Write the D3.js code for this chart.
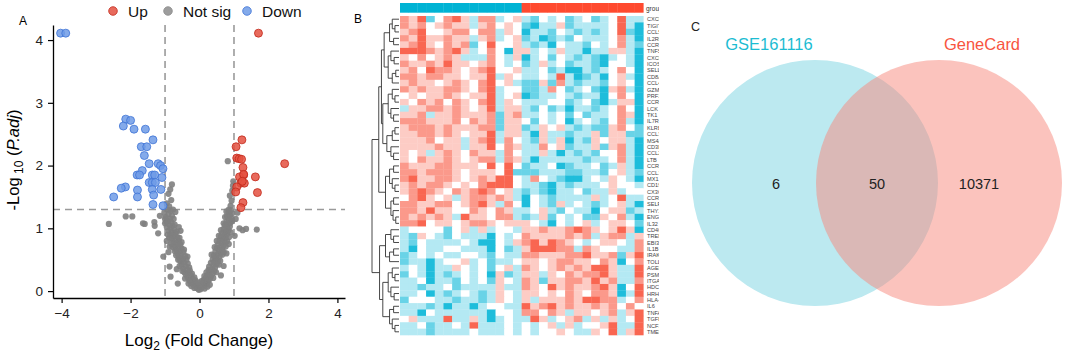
<!DOCTYPE html>
<html>
<head>
<meta charset="utf-8">
<script src="https://cdn.jsdelivr.net/npm/d3@7"></script>
<style>
body { margin: 0; background: #fff; }
text { font-family: "Liberation Sans", Arial, sans-serif; }
</style>
</head>
<body>
<script>
// ---------- data ----------
// volcano: [log2FC, -log10 padj]
var volUp = [[1.71,4.11],[1.23,2.41],[1.06,2.30],[1.08,2.12],[1.15,2.11],[1.22,2.10],[1.26,1.97],[1.28,1.85],
  [1.16,1.82],[1.62,1.82],[2.47,2.03],[1.28,1.86],[1.20,1.72],[1.30,1.72],[1.24,1.75],[1.08,1.66],[1.05,1.58],
  [1.68,1.57],[1.26,1.41],[1.20,1.33]];
var volDown = [[-4.03,4.11],[-3.88,4.11],[-2.14,2.74],[-2.0,2.72],[-2.21,2.63],[-1.90,2.58],[-1.57,2.58],[-1.35,2.41],
  [-1.69,2.30],[-1.53,2.30],[-1.60,2.16],[-1.46,2.03],[-1.20,2.03],[-1.13,2.0],[-1.06,1.95],[-1.81,1.85],[-1.66,1.92],
  [-1.37,1.85],[-1.30,1.85],[-1.74,1.85],[-1.09,1.81],[-2.15,1.66],[-2.27,1.64],[-2.49,1.50],[-1.80,1.61],[-1.80,1.50],
  [-1.46,1.73],[-1.37,1.73],[-1.28,1.73],[-1.37,1.62],[-1.12,1.62],[-1.33,1.53],[-1.35,1.38],[-1.06,1.36]];
var volNS = [[-0.02,0.02],[0.03,0.03],[-0.08,0.05],[0.08,0.06],[-0.13,0.08],[0.12,0.09],[-0.18,0.1],[0.17,0.11],
  [-0.05,0.04],[0.05,0.07],[-0.22,0.13],[0.21,0.12],[-0.1,0.12],[0.1,0.14],[0.0,0.08],[-0.27,0.15],[0.25,0.16],[-0.63,0.12],
  [-0.15,0.05],[0.15,0.04],[-0.24,0.08],[0.23,0.07],[-0.32,0.12],[0.3,0.1],[-0.12,0.17],[0.12,0.18],[-0.06,0.14],[0.06,0.16],
  [-0.3,0.18],[0.29,0.19],[-0.2,0.2],[0.18,0.21],[-0.35,0.22],[0.33,0.23],[-0.25,0.25],[0.24,0.26],[-0.4,0.27],[0.38,0.28],
  [-0.15,0.22],[0.14,0.24],[-0.32,0.3],[0.3,0.31],[-0.44,0.3],[0.43,0.32],[-0.84,0.23],[0.62,0.25],
  [-0.42,0.2],[0.4,0.21],[-0.28,0.33],[0.26,0.34],[-0.5,0.32],[0.48,0.3],[-0.22,0.28],[0.2,0.3],
  [-0.36,0.34],[0.35,0.35],[-0.47,0.36],[0.45,0.37],[-0.3,0.38],[0.28,0.39],[-0.4,0.4],[0.4,0.41],[-0.52,0.42],[0.5,0.43],
  [-0.34,0.44],[0.33,0.45],[-0.45,0.46],[0.44,0.47],[-0.56,0.48],[0.54,0.49],[-0.38,0.5],[0.38,0.5],[-0.87,0.39],[-0.66,0.35],[0.7,0.4],
  [-0.58,0.4],[0.56,0.42],[-0.48,0.5],[0.46,0.52],[-0.62,0.5],[0.6,0.48],[-0.35,0.55],[0.35,0.58],
  [-0.5,0.52],[0.48,0.53],[-0.6,0.54],[0.58,0.55],[-0.42,0.56],[0.42,0.57],[-0.55,0.58],[0.53,0.59],[-0.64,0.6],[0.62,0.61],
  [-0.47,0.62],[0.46,0.63],[-0.58,0.64],[0.57,0.65],[-0.68,0.66],[0.66,0.67],[-0.52,0.68],[0.5,0.69],[-0.62,0.7],[0.6,0.7],
  [-0.9,0.62],[-1.05,0.55],[0.78,0.6],
  [-0.68,0.57],[0.66,0.58],[-0.45,0.66],[0.44,0.7],[-0.72,0.64],[0.7,0.62],
  [-0.72,0.72],[0.7,0.73],[-0.56,0.74],[0.54,0.75],[-0.66,0.76],[0.64,0.77],[-0.76,0.78],[0.73,0.79],[-0.6,0.8],[0.58,0.81],
  [-0.7,0.82],[0.68,0.83],[-0.8,0.84],[0.76,0.85],[-0.64,0.86],[0.62,0.87],[-0.75,0.88],[0.72,0.89],[-0.87,0.71],[-0.95,0.8],[0.85,0.75],
  [-0.78,0.7],[0.76,0.71],[-0.52,0.78],[0.5,0.8],[-0.82,0.76],[0.8,0.8],[-0.58,0.85],[0.56,0.88],
  [-0.85,0.9],[0.8,0.91],[-0.7,0.92],[0.66,0.93],[-0.8,0.94],[0.76,0.95],[-0.9,0.96],[0.84,0.97],[-0.74,0.98],[0.7,0.99],
  [-0.88,0.85],[0.86,0.86],[-0.66,0.95],[0.62,0.97],[-0.92,0.9],[0.9,0.94],[-0.72,1.06],[0.7,1.08],
  [-0.84,1.0],[0.8,1.01],[-0.95,1.02],[0.88,1.03],[-0.78,1.04],[0.74,1.05],[-0.88,1.06],[0.84,1.07],[-1.0,1.08],[0.9,1.09],
  [-0.82,1.1],[0.78,1.1],[-0.6,1.02],[-0.55,0.96],
  [-0.96,1.1],[0.95,1.12],[-0.75,1.15],[0.74,1.18],[-1.0,1.15],[0.85,1.3],[-0.92,1.3],[0.78,1.27],
  [-0.92,1.12],[0.86,1.13],[-0.86,1.15],[0.92,1.16],[-0.98,1.18],[0.8,1.19],[-0.8,1.2],[0.88,1.21],[-0.9,1.23],[0.95,1.24],
  [-1.02,1.25],[0.84,1.26],[-0.84,1.28],[0.9,1.29],[-0.7,1.26],[-0.77,1.3],
  [-0.88,1.35],[0.9,1.36],[-0.82,1.45],[0.93,1.44],[-0.9,1.55],[0.88,1.52],[-0.85,1.62],[0.95,1.6],[-0.8,1.7],[0.97,1.68],
  [-0.95,1.4],[0.82,2.07],[0.98,1.75],
  [-2.63,1.07],[-2.14,1.19],[-1.95,1.19],[-1.59,1.07],[-1.3,1.04],[-1.64,1.08],[-1.31,1.1],[1.16,1.0],[1.25,0.97],[1.35,0.99],
  [1.66,0.98],[1.05,1.15],[1.1,1.25],[-1.15,1.2],[-1.2,0.92],[1.02,0.88]];
var volLegend = ["Up", "Not sig", "Down"];
var xTicks = [-4, -2, 0, 2, 4];
var yTicks = [0, 1, 2, 3, 4];

// heatmap: 50 genes x 28 samples, level 0 (blue) .. 3 (white) .. 6 (red)
var heatGenes = ["CXCL10","TIGIT","CCL5","IL2RB","CCR7","TNFSF10","CXCL9","ICOS","SELL","CD8A","CCL4","GZMB","PRF1",
  "CCR5","LCK","TK1","IL7R","KLRB1","CCL3","MS4A1","CD3E","CCL2","LTB","CCR2","CCL19","MX1","CD19","CX3CR1","CCR6",
  "SELP","THY1","ENG","IL32","CD40","TREM1","EBI3","IL1B","IRAK3","TOLLIP","AGER","PSMB8","ITGAM","HDC","HRH1",
  "HLA-DRA","IL6","TNFAIP3","TGFB1","NCF1","TMEM173"];
var heatRows = [
  "5461356425523421323123123622","5453454424534310224122223620","4563345535524302213212123610",
  "5464454424523412012132223520","4564354513633421203221323521","6665456423530442324220224420",
  "4353454222532402313212102320","5445464434532312423122103320","4536554345633422312002123530",
  "5545544344624322326201203420","4544345435634211415212213430","5454455435623311253123104520",
  "3434454344623401223212203530","4354535435624322233123102440","2445545434624421312022123530",
  "4452445444514522323131223540","5554445354514431323023213520","4555454445514412434212114531",
  "4455454344624420422122414411","4445344245625321424021434420","4444544244635422534122414520",
  "4342454354425322420212133520","4354454345525420222221223520","5444554443636312230122312420",
  "5545554344436111222112213421","5644554345466325321002324320","4545543435666322102122234332",
  "4565435456534212102231224233","3564342455454203212222423622","5544553456425303214232123420",
  "5546443354354223421322034412","5454542644355212413231143520","5563443455434443203234234431",
  "2333313424233244544565434640","2143213222032354444545245524","2132222320032456465432344325",
  "2032233222031246665525433225","1232322332132255444556445146","1220233423122344345544354035",
  "2320224323134254345454664226","1320212323041244243545564226","2230221323143254144554645225",
  "2212231222242254364544564036","2230212321243244343543554026","1333221221243242444546655235",
  "2221202202332264564544545353","2203222222033255354244345246","3422262242023226423452424236",
  "2231223262223232342423346226","2221222232223232334322436246"];
var sampleGroups = ["A","A","A","A","A","A","A","A","A","A","A","A","A","A",
  "B","B","B","B","B","B","B","B","B","B","B","B","B","B"];
// row dendrogram: [height, left, right], leaves are row indices
var dendroTree = [1,
  [0.75,
    [0.65,
      [0.55, [0.35, [0.25, 0, [0.15, 1, 2]], [0.2, 3, 4]], [0.4, [0.3, 5, [0.18, 6, 7]], [0.25, [0.12, 8, 9], 10]]],
      [0.6, [0.4, [0.25, 11, [0.15, 12, 13]], [0.3, 14, [0.2, 15, 16]]], [0.45, [0.25, [0.15, 17, 18], 19], [0.3, 20, [0.2, 21, 22]]]]],
    [0.5, [0.35, [0.2, 23, 24], [0.25, 25, [0.15, 26, 27]]], [0.3, [0.2, 28, 29], [0.22, 30, [0.12, 31, 32]]]]],
  [0.72,
    [0.5, [0.3, 33, [0.2, 34, 35]], [0.35, [0.2, 36, 37], 38]],
    [0.6, [0.4, [0.25, 39, [0.15, 40, 41]], [0.3, 42, [0.18, 43, 44]]], [0.35, [0.2, 45, 46], [0.25, 47, [0.15, 48, 49]]]]]];

// venn
var vennSets = ["GSE161116", "GeneCard"];
var vennCounts = [6, 50, 10371];

// ---------- svg ----------
var svg = d3.select("body").append("svg").attr("width", 1065).attr("height", 355);

// ================= A: volcano =================
var gA = svg.append("g");
var x = d3.scaleLinear().domain([-4.25, 4.22]).range([53, 345]);
var y = d3.scaleLinear().domain([-0.11, 4.24]).range([298, 25]);

gA.append("text").attr("x", 19).attr("y", 25).attr("font-size", 12).text("A");

// threshold lines
var dash = gA.append("g").attr("stroke", "#9a9a9a").attr("stroke-width", 1.6).attr("stroke-dasharray", "7,5");
[-1, 1].forEach(v => dash.append("line").attr("x1", x(v)).attr("x2", x(v)).attr("y1", y(4.24)).attr("y2", y(-0.11)));
dash.append("line").attr("x1", x(-4.25)).attr("x2", x(4.22)).attr("y1", y(-Math.log10(0.05))).attr("y2", y(-Math.log10(0.05)));

gA.append("g").selectAll("circle").data(volNS).enter().append("circle")
  .attr("cx", d => x(d[0])).attr("cy", d => y(d[1])).attr("r", 3.1)
  .attr("fill", "#7f7f7f").attr("fill-opacity", 0.9);
gA.append("g").selectAll("circle").data(volDown).enter().append("circle")
  .attr("cx", d => x(d[0])).attr("cy", d => y(d[1])).attr("r", 4)
  .attr("fill", "#6f9be6").attr("fill-opacity", 0.85).attr("stroke", "#3f73d6").attr("stroke-width", 0.8);
gA.append("g").selectAll("circle").data(volUp).enter().append("circle")
  .attr("cx", d => x(d[0])).attr("cy", d => y(d[1])).attr("r", 4)
  .attr("fill", "#e4503f").attr("fill-opacity", 0.85).attr("stroke", "#c22a1c").attr("stroke-width", 0.8);

var xAxis = gA.append("g").attr("transform", "translate(0,298)")
  .call(d3.axisBottom(x).tickValues(xTicks).tickFormat(d3.format("d")).tickSize(5).tickSizeOuter(0).tickPadding(5));
var yAxis = gA.append("g").attr("transform", "translate(53,0)")
  .call(d3.axisLeft(y).tickValues(yTicks).tickFormat(d3.format("d")).tickSize(5).tickSizeOuter(0).tickPadding(5));
[xAxis, yAxis].forEach(a => {
  a.select(".domain").attr("stroke", "#000").attr("stroke-width", 1.3);
  a.selectAll(".tick line").attr("stroke", "#000").attr("stroke-width", 1.2);
  a.selectAll(".tick text").attr("font-size", 13.5).attr("fill", "#222")
    .attr("font-family", "Liberation Sans, Arial, sans-serif");
});

var xt = gA.append("text").attr("x", 199).attr("y", 346).attr("text-anchor", "middle").attr("font-size", 17);
xt.append("tspan").text("Log");
xt.append("tspan").attr("font-size", 12).attr("dy", 4).text("2");
xt.append("tspan").attr("dy", -4).text(" (Fold Change)");

var yt = gA.append("text").attr("transform", "translate(19,160) rotate(-90)").attr("text-anchor", "middle").attr("font-size", 16.5);
yt.append("tspan").text("-Log");
yt.append("tspan").attr("font-size", 12).attr("dy", 4).text(" 10");
yt.append("tspan").attr("dy", -4).text(" (");
yt.append("tspan").attr("font-style", "italic").text("P.adj");
yt.append("tspan").text(")");

// legend
var legCol = ["#e4503f", "#8c8c8c", "#6f9be6"];
var legStroke = ["#c22a1c", "#8c8c8c", "#3f73d6"];
var legX = [113, 168, 247];
volLegend.forEach((t, i) => {
  gA.append("circle").attr("cx", legX[i]).attr("cy", 11).attr("r", 4.3)
    .attr("fill", legCol[i]).attr("fill-opacity", 0.85).attr("stroke", legStroke[i]).attr("stroke-width", 0.8);
  gA.append("text").attr("x", legX[i] + 15).attr("y", 16.5).attr("font-size", 15.5).attr("fill", "#111").text(t);
});

// ================= B: heatmap =================
svg.append("defs").append("clipPath").attr("id", "clipB")
  .append("rect").attr("x", 350).attr("y", 0).attr("width", 309).attr("height", 355);
var gB = svg.append("g").attr("clip-path", "url(#clipB)");
gB.append("text").attr("x", 354).attr("y", 23).attr("font-size", 12).text("B");

var hx = d3.scaleBand().domain(d3.range(sampleGroups.length)).range([400, 643.3]);
var hy = d3.scaleBand().domain(d3.range(heatGenes.length)).range([16, 335]);
var heatColor = d3.scaleLinear().domain([-0.4, 3, 6.6]).range(["#00b4d6", "#ffffff", "#f8472e"]);
var grpColor = d3.scaleOrdinal().domain(["A", "B"]).range(["#00b3d4", "#ff4a2f"]);

var cells = [];
heatRows.forEach((row, r) => row.split("").forEach((v, c) => cells.push({r: r, c: c, v: +v})));
gB.append("g").selectAll("rect").data(cells).enter().append("rect")
  .attr("x", d => hx(d.c)).attr("y", d => hy(d.r))
  .attr("width", hx.bandwidth() + 0.3).attr("height", hy.bandwidth() + 0.3)
  .attr("fill", d => heatColor(d.v));

gB.append("g").selectAll("rect").data(sampleGroups).enter().append("rect")
  .attr("x", (d, i) => hx(i)).attr("y", 3).attr("width", hx.bandwidth() + 0.3).attr("height", 9.7)
  .attr("fill", d => grpColor(d));
gB.append("text").attr("x", 646).attr("y", 10.5).attr("font-size", 6.5).attr("fill", "#333").text("group");

gB.append("g").selectAll("text").data(heatGenes).enter().append("text")
  .attr("x", 647).attr("y", (d, i) => hy(i) + hy.bandwidth() / 2 + 2.2)
  .attr("font-size", 5.6).attr("fill", "#444").text(d => d);

// dendrogram
var dx = d3.scaleLinear().domain([0, 1]).range([399, 372]);
var tree = d3.hierarchy(dendroTree, d => Array.isArray(d) ? d.slice(1) : null);
tree.eachAfter(n => {
  if (!n.children) { n.h = 0; n.py = hy(n.data) + hy.bandwidth() / 2; }
  else { n.h = n.data[0]; n.py = (n.children[0].py + n.children[1].py) / 2; }
});
var segs = [];
tree.each(n => {
  if (!n.children) return;
  segs.push([dx(n.h), n.children[0].py, dx(n.h), n.children[1].py]);
  n.children.forEach(ch => segs.push([dx(n.h), ch.py, dx(ch.h), ch.py]));
});
gB.append("g").selectAll("line").data(segs).enter().append("line")
  .attr("x1", d => d[0]).attr("y1", d => d[1]).attr("x2", d => d[2]).attr("y2", d => d[3])
  .attr("stroke", "#333").attr("stroke-width", 0.9);

// ================= C: venn =================
var gC = svg.append("g");
gC.append("text").attr("x", 691).attr("y", 31).attr("font-size", 12.5).attr("fill", "#222").text("C");
var vx = d3.scaleLinear().domain([0, 1]).range([815, 939]);
gC.append("circle").attr("cx", vx(0)).attr("cy", 183).attr("r", 123).attr("fill", "#bce9f0");
gC.append("circle").attr("cx", vx(1)).attr("cy", 183).attr("r", 123).attr("fill", "#f8887c").attr("fill-opacity", 0.5);
var vennLabCol = ["#1cbcd2", "#f8553f"];
var vennLabX = [769, 982];
vennSets.forEach((s, i) => gC.append("text").attr("x", vennLabX[i]).attr("y", 50)
  .attr("text-anchor", "middle").attr("font-size", 16.5).attr("fill", vennLabCol[i]).text(s));
var countX = [776, 877, 979];
vennCounts.forEach((c, i) => gC.append("text").attr("x", countX[i]).attr("y", 189)
  .attr("text-anchor", "middle").attr("font-size", 14.5).attr("fill", "#222").text(c));
</script>
</body>
</html>
